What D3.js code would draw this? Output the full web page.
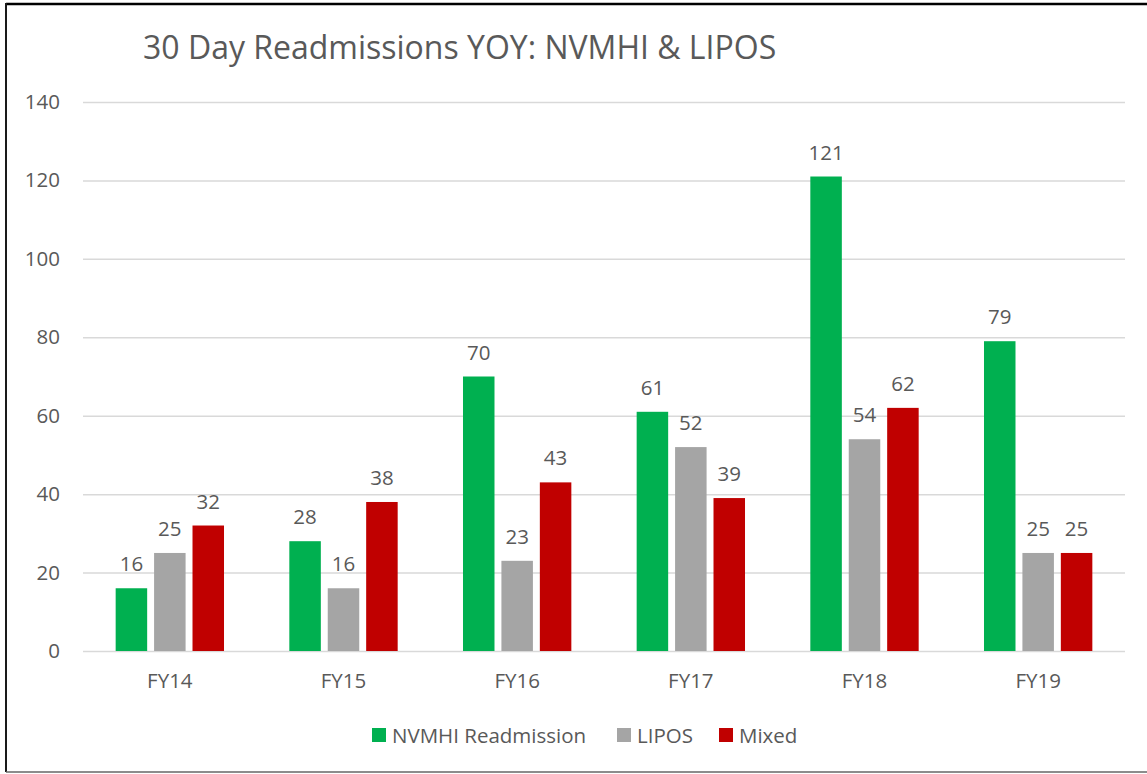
<!DOCTYPE html>
<html>
<head>
<meta charset="utf-8">
<script src="https://cdn.jsdelivr.net/npm/d3@7"></script>
<style>
  body { margin: 0; background: #fff; }
  text { font-family: "Open Sans", sans-serif; fill: #595959; }
</style>
</head>
<body>
<div id="chart"></div>
<script>
var categories = ["FY14", "FY15", "FY16", "FY17", "FY18", "FY19"];
var seriesNames = ["NVMHI Readmission", "LIPOS", "Mixed"];
var seriesColors = ["#00b050", "#a5a5a5", "#c00000"];
var nvmhi = [16, 28, 70, 61, 121, 79];
var lipos = [25, 16, 23, 52, 54, 25];
var mixed = [32, 38, 43, 39, 62, 25];
var yTicks = [0, 20, 40, 60, 80, 100, 120, 140];

var width = 1147, height = 774;
var margin = {top: 102, right: 22, bottom: 123, left: 83};

var series = [nvmhi, lipos, mixed];

var svg = d3.select("#chart")
    .append("svg")
    .attr("width", width)
    .attr("height", height);

// frame
svg.append("line")
    .attr("x1", 6).attr("x2", width).attr("y1", 4).attr("y2", 4)
    .attr("stroke", "#000").attr("stroke-width", 2.5);
svg.append("line")
    .attr("x1", 6).attr("x2", 6).attr("y1", 3).attr("y2", 772)
    .attr("stroke", "#1a1a1a").attr("stroke-width", 2);
svg.append("line")
    .attr("x1", 6).attr("x2", width).attr("y1", 772).attr("y2", 772)
    .attr("stroke", "#666").attr("stroke-width", 1.5);

var x = d3.scaleBand()
    .domain(categories)
    .range([margin.left, width - margin.right]);

var y = d3.scaleLinear()
    .domain([0, 140])
    .range([height - margin.bottom, margin.top]);

var xInner = d3.scaleBand()
    .domain(d3.range(seriesNames.length))
    .range([0, x.bandwidth()])
    .paddingInner(0.18)
    .paddingOuter(0.85);

// gridlines + y labels
var yAxis = svg.append("g")
    .attr("transform", "translate(" + margin.left + ",0)")
    .call(d3.axisLeft(y).tickValues(yTicks)
        .tickSize(-(width - margin.left - margin.right))
        .tickPadding(23));
yAxis.select(".domain").remove();
yAxis.selectAll(".tick line").attr("stroke", "#d9d9d9").attr("stroke-width", 1.5);
yAxis.selectAll(".tick text")
    .style("font-size", "20.5px")
    .style("font-family", "'Open Sans', sans-serif")
    .attr("fill", "#595959");

// x labels
var xAxis = svg.append("g")
    .attr("transform", "translate(0," + (height - margin.bottom) + ")")
    .call(d3.axisBottom(x).tickSize(0).tickPadding(22));
xAxis.select(".domain").remove();
xAxis.selectAll(".tick text")
    .style("font-size", "20.5px")
    .style("font-family", "'Open Sans', sans-serif")
    .attr("fill", "#595959");

var rows = [];
categories.forEach(function(c, i) {
    series.forEach(function(s, j) {
        rows.push({cat: c, s: j, v: s[i]});
    });
});

var groups = svg.append("g");

groups.selectAll("rect")
    .data(rows)
    .enter()
    .append("rect")
    .attr("x", function(d) { return x(d.cat) + xInner(d.s); })
    .attr("width", xInner.bandwidth())
    .attr("y", function(d) { return y(d.v); })
    .attr("height", function(d) { return y(0) - y(d.v); })
    .attr("fill", function(d) { return seriesColors[d.s]; });

groups.selectAll(".lbl")
    .data(rows)
    .enter()
    .append("text")
    .attr("class", "lbl")
    .attr("x", function(d) { return x(d.cat) + xInner(d.s) + xInner.bandwidth() / 2; })
    .attr("y", function(d) { return y(d.v) - 17; })
    .attr("text-anchor", "middle")
    .style("font-size", "20.5px")
    .text(function(d) { return d.v; });

// title
svg.append("text")
    .attr("x", 143)
    .attr("y", 59)
    .style("font-size", "32px")
    .text("30 Day Readmissions YOY: NVMHI & LIPOS");

// legend
var legendX = [372, 617, 719];
var legend = svg.append("g");
var item = legend.selectAll("g")
    .data(seriesNames)
    .enter()
    .append("g")
    .attr("transform", function(d, i) { return "translate(" + legendX[i] + ",728)"; });
item.append("rect")
    .attr("width", 14).attr("height", 14)
    .attr("fill", function(d, i) { return seriesColors[i]; });
item.append("text")
    .attr("x", 20)
    .attr("y", 14.5)
    .style("font-size", "20.5px")
    .text(function(d) { return d; });
</script>
</body>
</html>
